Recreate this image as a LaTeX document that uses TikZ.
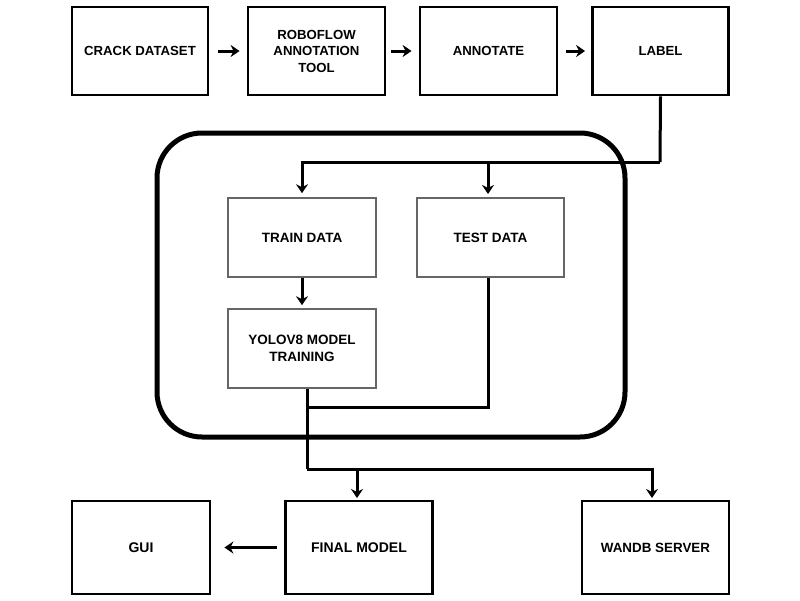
\documentclass[tikz,border=0pt]{standalone}
\usepackage{fontspec}
\setmainfont{Liberation Sans}
\usetikzlibrary{arrows.meta}
\begin{document}
\begin{tikzpicture}[x=1pt,y=-1pt,
  bigbox/.style={draw=black,line width=2.8pt,fill=white,inner sep=0pt,align=center,
    font=\fontsize{13.2}{16.5}\selectfont\bfseries},
  lowbox/.style={bigbox,font=\fontsize{14}{17}\selectfont\bfseries},
  smallbox/.style={draw=black!60,line width=1.6pt,fill=white,inner sep=0pt,align=center,
    font=\fontsize{13.5}{17}\selectfont\bfseries},
  conn/.style={line width=3pt,draw=black},
  arr/.style={conn,-{Stealth[length=9pt,width=12pt,inset=3pt]}},
]
\useasboundingbox (0,0) rectangle (800,600);
% container
\draw[line width=5pt,rounded corners=45pt] (157,133) rectangle (625,437);
% top row
\node[bigbox,minimum width=136pt,minimum height=88pt] (crack) at (140,51) {CRACK DATASET};
\node[bigbox,minimum width=137pt,minimum height=88pt] (robo) at (316.5,51) {ROBOFLOW\\ANNOTATION\\TOOL};
\node[bigbox,minimum width=137pt,minimum height=88pt] (annot) at (488.5,51) {ANNOTATE};
\node[bigbox,minimum width=136pt,minimum height=88pt] (label) at (660.5,51) {LABEL};
% inner
\node[smallbox,minimum width=148pt,minimum height=79pt] (train) at (302,237.5) {TRAIN DATA};
\node[smallbox,minimum width=147pt,minimum height=79pt] (test) at (490.5,237.5) {TEST DATA};
\node[smallbox,minimum width=148pt,minimum height=79pt] (yolo) at (302,348.5) {YOLOV8 MODEL\\TRAINING};
% bottom
\node[lowbox,minimum width=138pt,minimum height=93pt] (gui) at (141,547.5) {GUI};
\node[lowbox,minimum width=147pt,minimum height=93pt] (final) at (359,547.5) {FINAL MODEL};
\node[lowbox,minimum width=147pt,minimum height=93pt,font=\fontsize{13.4}{17}\selectfont\bfseries] (wandb) at (655.5,547.5) {WANDB SERVER};
% top arrows
\draw[arr,shorten <=9pt,shorten >=7pt] (crack.east) -- (robo.west);
\draw[arr,shorten <=5pt,shorten >=7pt] (robo.east) -- (annot.west);
\draw[arr,shorten <=8pt,shorten >=6pt] (annot.east) -- (label.west);
% label to train/test
\coordinate (j1) at (660,162);
\draw[conn] (label.south) -- (j1);
\draw[arr,shorten >=4pt] (j1) -| (train.north);
\draw[arr,shorten >=4pt] (j1 -| 488,0) -- (488,198);
% train to yolo
\draw[arr,shorten >=3pt] (train.south) -- (yolo.north);
% test/yolo to outputs
\coordinate (j2) at (307,407);
\draw[conn] (test.south -| 488,0) |- (j2);
\coordinate (j3) at (307,469);
\draw[conn] (yolo.south -| j2) -- (j3);
\draw[arr,shorten >=3pt] (j3) -| (357,501);
\draw[arr,shorten >=3pt] (j3) -| (652,501);
% final to gui
\draw[arr,shorten <=7pt,shorten >=13pt] (final.west) -- (gui.east);
\end{tikzpicture}
\end{document}
